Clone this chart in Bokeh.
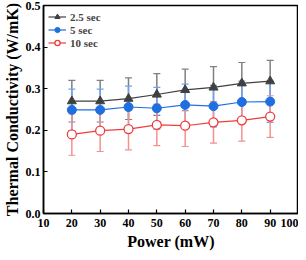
from bokeh.plotting import figure
from bokeh.models import ColumnDataSource, Whisker, TeeHead, FixedTicker, PrintfTickFormatter, Legend, LegendItem, Range1d
from bokeh.embed import file_html
from bokeh.resources import INLINE

power = [20, 30, 40, 50, 60, 70, 80, 90]
k_25 = [0.270, 0.270, 0.276, 0.286, 0.297, 0.303, 0.313, 0.318]
e_25 = [0.050, 0.050, 0.050, 0.050, 0.050, 0.050, 0.050, 0.050]
k_5 = [0.249, 0.249, 0.256, 0.253, 0.261, 0.258, 0.268, 0.269]
e_5 = [0.050, 0.050, 0.050, 0.050, 0.050, 0.050, 0.050, 0.050]
k_10 = [0.190, 0.199, 0.203, 0.213, 0.211, 0.219, 0.224, 0.233]
e_10 = [0.050, 0.050, 0.050, 0.050, 0.050, 0.050, 0.050, 0.050]
labels = ["2.5 sec", "5 sec", "10 sec"]
x_ticks = [10, 20, 30, 40, 50, 60, 70, 80, 90, 100]
y_ticks = [0.0, 0.1, 0.2, 0.3, 0.4, 0.5]

FONT = "Liberation Serif"

p = figure(width=298, height=252, output_backend="svg", toolbar_location=None,
           x_range=Range1d(10, 100), y_range=Range1d(0, 0.5),
           min_border_left=36, min_border_right=0, min_border_top=5, min_border_bottom=37)
p.grid.visible = False
p.outline_line_color = "black"
p.outline_line_width = 1.5
p.background_fill_color = "white"

for ax in (p.xaxis[0], p.yaxis[0]):
    ax.axis_line_width = 1.5
    ax.major_tick_in = 4
    ax.major_tick_out = 0
    ax.minor_tick_in = 0
    ax.minor_tick_out = 0
    ax.major_tick_line_width = 1.2
    ax.major_label_text_font = FONT
    ax.major_label_text_font_style = "bold"
    ax.major_label_text_font_size = "12px"
    ax.major_label_text_color = "black"
    ax.axis_label_text_font = FONT
    ax.axis_label_text_font_style = "bold"
    ax.axis_label_text_font_size = "16px"
    ax.axis_label_text_color = "black"

p.xaxis.ticker = FixedTicker(ticks=x_ticks)
p.yaxis.ticker = FixedTicker(ticks=y_ticks)
p.yaxis.formatter = PrintfTickFormatter(format="%.1f")
p.xaxis.axis_label = "Power (mW)"
p.yaxis.axis_label = "Thermal Conductivity (W/mK)"
p.xaxis.major_label_standoff = 5
p.xaxis.axis_label_standoff = 3
p.yaxis.major_label_standoff = 3
p.yaxis.axis_label_standoff = 2

series = [
    (k_25, e_25, "#404040", "#808080", "triangle"),
    (k_5, e_5, "#1f6fe0", "#6fa3ee", "circle"),
    (k_10, e_10, "#f03c3c", "#f59090", "circle_open"),
]
items = []
for (vals, errs, col, ecol, marker), lab in zip(series, labels):
    src = ColumnDataSource(dict(x=power, y=vals,
                                lo=[v - e for v, e in zip(vals, errs)],
                                hi=[v + e for v, e in zip(vals, errs)]))
    w = Whisker(source=src, base="x", lower="lo", upper="hi",
                line_color=ecol, line_width=1.5,
                upper_head=TeeHead(size=7, line_color=ecol, line_width=1.2),
                lower_head=TeeHead(size=7, line_color=ecol, line_width=1.2))
    p.add_layout(w)
    r_line = p.line("x", "y", source=src, line_color=col, line_width=1.2)
    if marker == "circle_open":
        r_m = p.scatter("x", "y", source=src, marker="circle", size=9,
                        fill_color="white", line_color=col, line_width=1.3)
    elif marker == "triangle":
        r_m = p.scatter("x", "y", source=src, marker="triangle", size=9,
                        fill_color=col, line_color=col)
    else:
        r_m = p.scatter("x", "y", source=src, marker="circle", size=9,
                        fill_color=col, line_color=col)
    items.append(LegendItem(label=lab, renderers=[r_line, r_m]))

legend = Legend(items=items, location="top_left")
legend.margin = 0
legend.padding = 5
legend.spacing = 0
legend.label_height = 13
legend.glyph_height = 13
legend.glyph_width = 18
legend.label_standoff = 4
legend.label_text_font = FONT
legend.label_text_font_style = "bold"
legend.label_text_font_size = "11px"
legend.background_fill_alpha = 0
legend.border_line_alpha = 0
p.add_layout(legend)

open("out.html", "w").write(file_html(p, INLINE))
